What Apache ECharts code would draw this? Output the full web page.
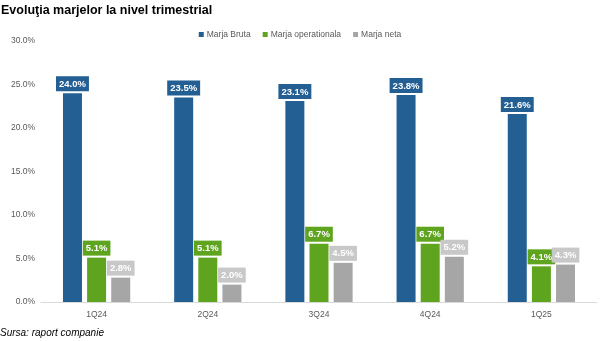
<!DOCTYPE html>
<html><head><meta charset="utf-8">
<script src="https://cdn.jsdelivr.net/npm/echarts@6/dist/echarts.min.js"></script>
<style>html,body{margin:0;padding:0;background:#fff}#c{width:600px;height:341px}</style>
</head><body><div id="c"></div>
<script>
const categories = ['1Q24','2Q24','3Q24','4Q24','1Q25'];
const marjaBruta = [24.0, 23.5, 23.1, 23.8, 21.6];
const marjaOperationala = [5.1, 5.1, 6.7, 6.7, 4.1];
const marjaNeta = [2.8, 2.0, 4.5, 5.2, 4.3];
const seriesNames = ['Marja Bruta','Marja operationala','Marja neta'];
const colors = ['#245f93','#5ea41f','#a6a6a6'];
const labelBg = ['#245f93','#5ea41f','#c8c8c8'];

const chart = echarts.init(document.getElementById('c'));
const mk = (name, data, i) => ({
  name, type: 'bar', data, barWidth: 19, barGap: '27%',
  itemStyle: { color: colors[i] },
  label: {
    show: true, position: 'top', distance: 2,
    formatter: p => p.value.toFixed(1) + '%',
    color: '#fff', fontWeight: 'bold', fontSize: 9.5,
    fontFamily: 'Liberation Sans',
    backgroundColor: labelBg[i], padding: [3, 3, 2, 3]
  }
});
chart.setOption({
  animation: false,
  title: [{
    text: 'Evoluţia marjelor la nivel trimestrial', left: 1, top: -1, padding: [5, 0, 5, 0],
    textStyle: { fontFamily: 'Liberation Sans', fontSize: 12.5, fontWeight: 'bold', color: '#000' }
  }, {
    text: 'Sursa: raport companie', left: 0, top: 323, padding: [5, 0, 5, 0],
    textStyle: { fontFamily: 'Liberation Sans', fontSize: 10, fontStyle: 'italic', fontWeight: 'normal', color: '#000' }
  }],
  legend: {
    data: seriesNames, top: 25, left: 'center', itemWidth: 5, itemHeight: 5, itemGap: 12,
    icon: 'rect',
    textStyle: { fontFamily: 'Liberation Sans', fontSize: 8.5, color: '#595959', padding: [0,0,0,-2] }
  },
  grid: { left: 41, right: 3, top: 41, bottom: 39 },
  xAxis: {
    type: 'category', data: categories,
    axisLine: { lineStyle: { color: '#d9d9d9' } }, axisTick: { show: false },
    axisLabel: { fontFamily: 'Liberation Sans', fontSize: 8.5, color: '#595959', margin: 8 }
  },
  yAxis: {
    type: 'value', min: 0, max: 30, interval: 5,
    splitLine: { show: false }, axisLine: { show: false }, axisTick: { show: false },
    axisLabel: { fontFamily: 'Liberation Sans', fontSize: 8.5, color: '#595959', margin: 6,
      formatter: v => v.toFixed(1) + '%' }
  },
  series: [mk(seriesNames[0], marjaBruta, 0), mk(seriesNames[1], marjaOperationala, 1), mk(seriesNames[2], marjaNeta, 2)]
});
</script></body></html>
